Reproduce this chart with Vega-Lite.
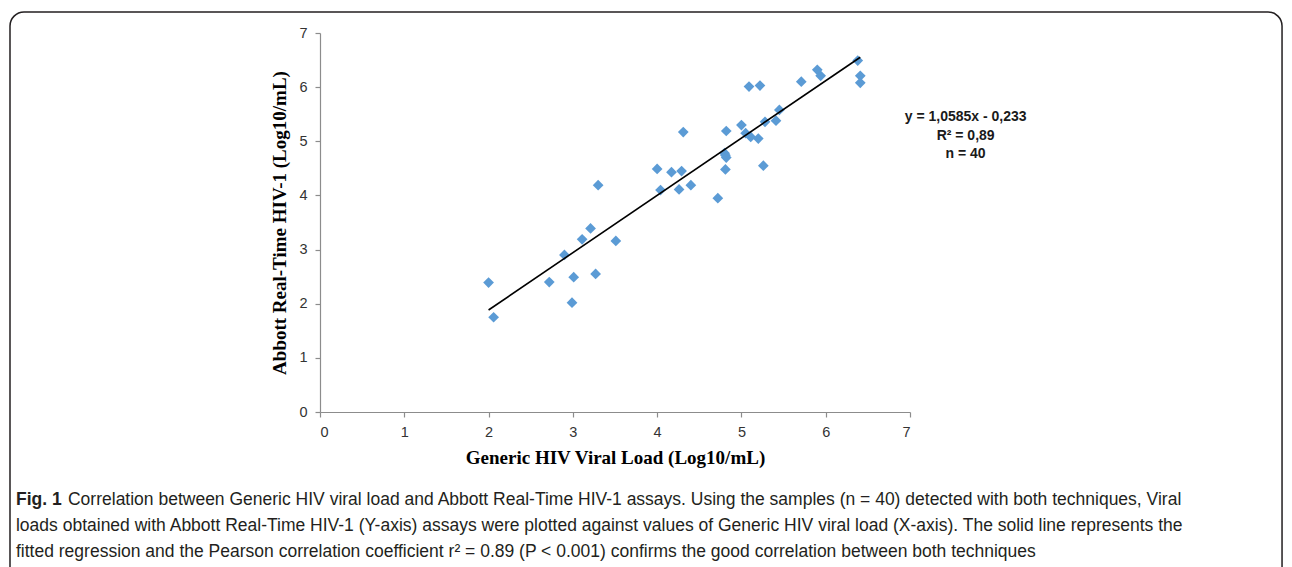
{
  "$schema": "https://vega.github.io/schema/vega-lite/v6.json",
  "width": 590,
  "height": 379,
  "autosize": {"type": "none"},
  "padding": {"left": 320, "top": 33, "right": 382, "bottom": 155},
  "background": "white",
  "config": {"view": {"stroke": null}},
  "datasets": {
    "points": [
      {"generic": 2.0, "abbott": 2.39},
      {"generic": 2.06, "abbott": 1.75},
      {"generic": 2.72, "abbott": 2.4},
      {"generic": 2.9, "abbott": 2.9},
      {"generic": 2.99, "abbott": 2.02},
      {"generic": 3.01, "abbott": 2.49},
      {"generic": 3.11, "abbott": 3.19},
      {"generic": 3.21, "abbott": 3.39},
      {"generic": 3.27, "abbott": 2.55},
      {"generic": 3.3, "abbott": 4.19},
      {"generic": 3.51, "abbott": 3.16},
      {"generic": 4.0, "abbott": 4.49},
      {"generic": 4.04, "abbott": 4.1},
      {"generic": 4.17, "abbott": 4.43},
      {"generic": 4.26, "abbott": 4.11},
      {"generic": 4.29, "abbott": 4.45},
      {"generic": 4.31, "abbott": 5.17},
      {"generic": 4.4, "abbott": 4.19},
      {"generic": 4.72, "abbott": 3.95},
      {"generic": 4.8, "abbott": 4.78},
      {"generic": 4.82, "abbott": 4.7},
      {"generic": 4.81, "abbott": 4.48},
      {"generic": 4.82, "abbott": 5.19},
      {"generic": 5.0, "abbott": 5.3},
      {"generic": 5.05, "abbott": 5.15},
      {"generic": 5.09, "abbott": 6.01},
      {"generic": 5.11, "abbott": 5.08},
      {"generic": 5.2, "abbott": 5.05},
      {"generic": 5.22, "abbott": 6.03},
      {"generic": 5.26, "abbott": 4.55},
      {"generic": 5.28, "abbott": 5.36},
      {"generic": 5.41, "abbott": 5.38},
      {"generic": 5.45, "abbott": 5.58},
      {"generic": 5.71, "abbott": 6.1},
      {"generic": 5.9, "abbott": 6.32},
      {"generic": 5.94, "abbott": 6.21},
      {"generic": 6.38, "abbott": 6.49},
      {"generic": 6.41, "abbott": 6.21},
      {"generic": 6.41, "abbott": 6.08},
      {"generic": 4.81, "abbott": 4.74}
    ],
    "fit": [
      {"generic": 2.0, "abbott": 1.884},
      {"generic": 6.41, "abbott": 6.552}
    ],
    "one": [{}]
  },
  "layer": [
    {
      "data": {"name": "points"},
      "mark": {"type": "point", "shape": "diamond", "filled": true, "color": "#5B9BD5", "opacity": 1, "size": 115},
      "encoding": {
        "x": {
          "field": "generic", "type": "quantitative",
          "scale": {"domain": [0, 7], "nice": false, "zero": false},
          "axis": {
            "title": "Generic HIV Viral Load (Log10/mL)",
            "values": [0, 1, 2, 3, 4, 5, 6, 7],
            "format": "d",
            "grid": false,
            "domainColor": "#8c8c8c", "domainWidth": 1.2,
            "tickColor": "#8c8c8c", "tickSize": 5, "tickWidth": 1.2,
            "labelFont": "Liberation Sans", "labelFontSize": 14.5, "labelColor": "#333333", "labelPadding": 8,
            "titleFont": "Liberation Serif", "titleFontSize": 19, "titleFontWeight": "bold", "titleColor": "#000000", "titlePadding": 10
          }
        },
        "y": {
          "field": "abbott", "type": "quantitative",
          "scale": {"domain": [0, 7], "nice": false, "zero": false},
          "axis": {
            "title": "Abbott Real-Time HIV-1 (Log10/mL)",
            "values": [0, 1, 2, 3, 4, 5, 6, 7],
            "format": "d",
            "grid": false,
            "domainColor": "#8c8c8c", "domainWidth": 1.2,
            "tickColor": "#8c8c8c", "tickSize": 5, "tickWidth": 1.2,
            "labelFont": "Liberation Sans", "labelFontSize": 14.5, "labelColor": "#333333", "labelPadding": 8,
            "titleFont": "Liberation Serif", "titleFontSize": 19, "titleFontWeight": "bold", "titleColor": "#000000", "titlePadding": 9
          }
        }
      }
    },
    {
      "data": {"name": "fit"},
      "mark": {"type": "line", "color": "#000000", "strokeWidth": 1.6},
      "encoding": {
        "x": {"field": "generic", "type": "quantitative"},
        "y": {"field": "abbott", "type": "quantitative"}
      }
    },
    {
      "data": {"name": "one"},
      "mark": {"type": "rect", "fill": "transparent", "stroke": "#231f20", "strokeWidth": 1.5, "cornerRadius": 14, "clip": false},
      "encoding": {
        "x": {"datum": -3.678, "type": "quantitative"},
        "x2": {"datum": 11.414},
        "y": {"datum": 7.388, "type": "quantitative"},
        "y2": {"datum": -3.6}
      }
    },
    {
      "data": {"name": "one"},
      "mark": {"type": "text", "text": ["y = 1,0585x - 0,233", "R² = 0,89", "n = 40"], "font": "Liberation Sans", "fontWeight": "bold", "fontSize": 14, "align": "center", "baseline": "alphabetic", "lineHeight": 18.5, "color": "#1a1a1a", "clip": false},
      "encoding": {
        "x": {"datum": 7.66, "type": "quantitative"},
        "y": {"datum": 5.37, "type": "quantitative"}
      }
    },
    {
      "data": {"name": "one"},
      "mark": {"type": "text", "text": "Fig. 1", "font": "Liberation Sans", "fontWeight": "bold", "fontSize": 17.5, "align": "left", "baseline": "alphabetic", "color": "#231f20", "clip": false},
      "encoding": {
        "x": {"datum": -3.607, "type": "quantitative"},
        "y": {"datum": -1.718, "type": "quantitative"}
      }
    },
    {
      "data": {"name": "one"},
      "mark": {"type": "text", "text": "Correlation between Generic HIV viral load and Abbott Real-Time HIV-1 assays. Using the samples (n = 40) detected with both techniques, Viral", "font": "Liberation Sans", "fontSize": 17.5, "align": "left", "baseline": "alphabetic", "color": "#231f20", "clip": false},
      "encoding": {
        "x": {"datum": -2.99, "type": "quantitative"},
        "y": {"datum": -1.718, "type": "quantitative"}
      }
    },
    {
      "data": {"name": "one"},
      "mark": {"type": "text", "text": ["loads obtained with Abbott Real-Time HIV-1 (Y-axis) assays were plotted against values of Generic HIV viral load (X-axis). The solid line represents the", "fitted regression and the Pearson correlation coefficient r² = 0.89 (P < 0.001) confirms the good correlation between both techniques"], "font": "Liberation Sans", "fontSize": 17.5, "lineHeight": 25.5, "align": "left", "baseline": "alphabetic", "color": "#231f20", "clip": false},
      "encoding": {
        "x": {"datum": -3.607, "type": "quantitative"},
        "y": {"datum": -2.198, "type": "quantitative"}
      }
    }
  ]
}
